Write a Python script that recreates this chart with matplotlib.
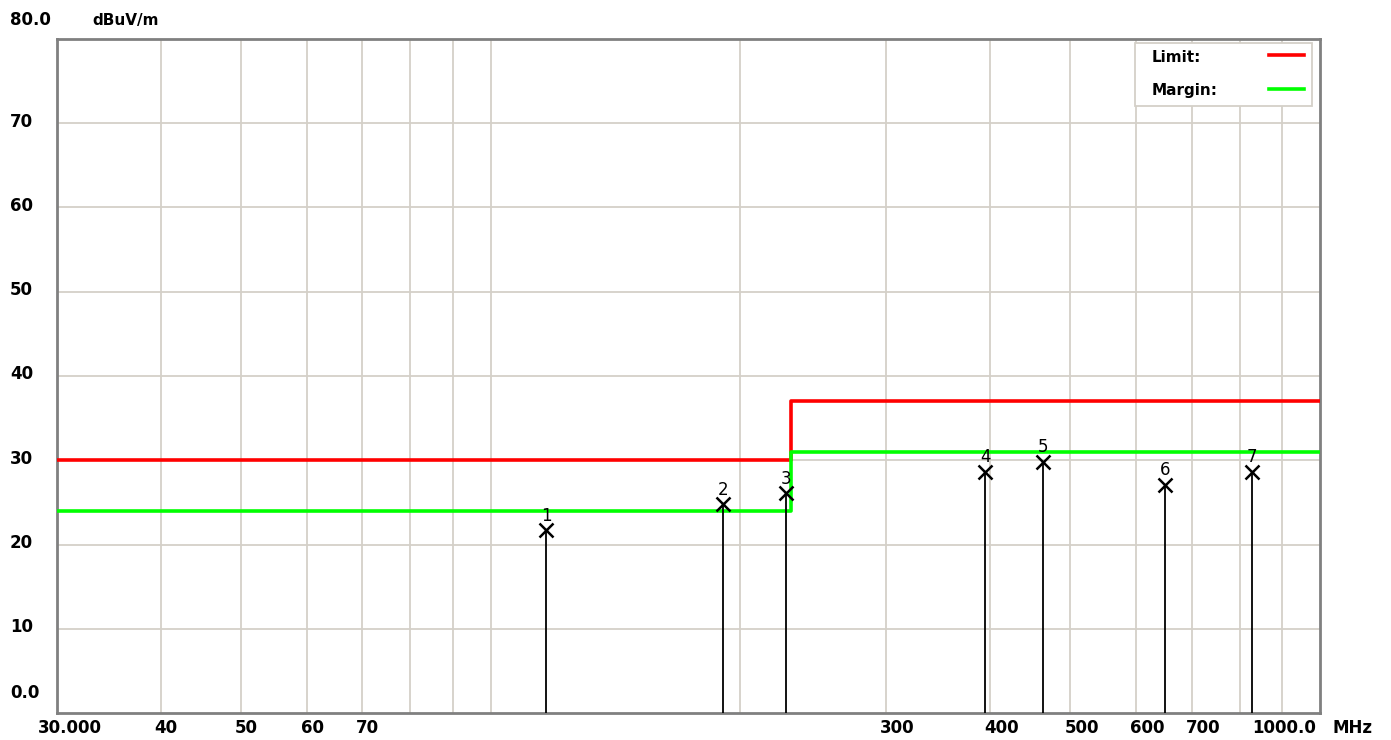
import matplotlib.pyplot as plt
import matplotlib.transforms as mtransforms
from matplotlib.patches import Rectangle
from matplotlib.lines import Line2D

# limit lines (MHz, dBuV/m)
limit_freq = [30, 230, 230, 1000]
limit_level = [30, 30, 37, 37]
margin_freq = [30, 230, 230, 1000]
margin_level = [24, 24, 31, 31]

# measured peaks
peak_no = ["1", "2", "3", "4", "5", "6", "7"]
peak_freq = [116.6, 190.6, 227.1, 394.6, 463.6, 650.7, 827.0]
peak_level = [21.7, 24.8, 26.1, 28.6, 29.8, 27.1, 28.6]

grid_freq = [40, 50, 60, 70, 80, 90, 100, 200, 300, 400, 500, 600, 700, 800, 900]
xtick_freq = [30, 40, 50, 60, 70, 300, 400, 500, 600, 700, 1000]
xtick_text = ["30.000", "40", "50", "60", "70", "300", "400", "500", "600", "700", "1000.0"]
ytick_level = [10, 20, 30, 40, 50, 60, 70]
ytick_text = ["10", "20", "30", "40", "50", "60", "70"]

plt.rcParams['font.family'] = ['DejaVu Sans']
fig = plt.figure(figsize=(13.91, 7.40), dpi=100)
W, H = 1391, 740
ax = fig.add_axes([57 / W, 1 - 713 / H, (1320 - 57) / W, (713 - 39) / H])
ax.set_xscale('log')
ax.set_xlim(30, 1000)
ax.set_ylim(0, 80)

gcol = '#d4d0c8'
for f in grid_freq:
    ax.axvline(f, color=gcol, lw=1.3, zorder=0)
for v in ytick_level:
    ax.axhline(v, color=gcol, lw=1.3, zorder=0)

ax.set_xticks([])
ax.set_yticks([])
ax.minorticks_off()
for s in ax.spines.values():
    s.set_color('#808080')
    s.set_linewidth(2)

ax.plot(limit_freq, limit_level, color='#ff0000', lw=2.6, zorder=3)
ax.plot(margin_freq, margin_level, color='#00ff00', lw=2.6, zorder=3)

for n, f, v in zip(peak_no, peak_freq, peak_level):
    ax.vlines(f, 0, v, color='black', lw=1.3, zorder=4)
    ax.plot(f, v, marker='x', ms=10, mew=1.8, color='black', zorder=5)
    ax.annotate(n, (f, v), xytext=(0, 4), textcoords='offset points',
                ha='center', va='bottom', fontsize=12, zorder=6)

fs = 12
# y labels, left aligned at the figure edge
ytr = mtransforms.blended_transform_factory(fig.transFigure, ax.transData)
for v, t in zip(ytick_level, ytick_text):
    ax.text(10 / W, v + 0.2, t, transform=ytr, ha='left', va='center',
            fontsize=fs, fontweight='bold')
fig.text(10 / W, 1 - 20 / H, "80.0", ha='left', va='center', fontsize=fs, fontweight='bold')
fig.text(92 / W, 1 - 20 / H, "dBuV/m", ha='left', va='center', fontsize=11, fontweight='bold')
fig.text(10 / W, 1 - 693 / H, "0.0", ha='left', va='center', fontsize=fs, fontweight='bold')

# x labels
xtr = mtransforms.blended_transform_factory(ax.transData, fig.transFigure)
off = mtransforms.ScaledTranslation(-6 / 100, 0, fig.dpi_scale_trans)
for f, t in zip(xtick_freq, xtick_text):
    if t == "30.000":
        fig.text(38 / W, 1 - 728 / H, t, ha='left', va='center', fontsize=fs, fontweight='bold')
    elif t == "1000.0":
        fig.text(1316 / W, 1 - 728 / H, t, ha='right', va='center', fontsize=fs, fontweight='bold')
    else:
        ax.text(f, 1 - 728 / H, t, transform=xtr + off, ha='left', va='center',
                fontsize=fs, fontweight='bold')
fig.text(1333 / W, 1 - 728 / H, "MHz", ha='left', va='center', fontsize=fs, fontweight='bold')

# legend box drawn in figure pixels
fig.add_artist(Rectangle((1135 / W, 1 - 106 / H), (1312 - 1135) / W, (106 - 43) / H,
                         transform=fig.transFigure, facecolor='white', edgecolor=gcol,
                         lw=1.3, zorder=10))
for label, col, y in [("Limit:", '#ff0000', 57), ("Margin:", '#00ff00', 91)]:
    fig.text(1152 / W, 1 - y / H, label, ha='left', va='center', fontsize=11,
             fontweight='bold', zorder=11)
    fig.add_artist(Line2D([1269 / W, 1304 / W], [1 - (y - 2) / H, 1 - (y - 2) / H],
                          transform=fig.transFigure, color=col, lw=2.6, zorder=11))

fig.savefig('out.png', dpi=100)
